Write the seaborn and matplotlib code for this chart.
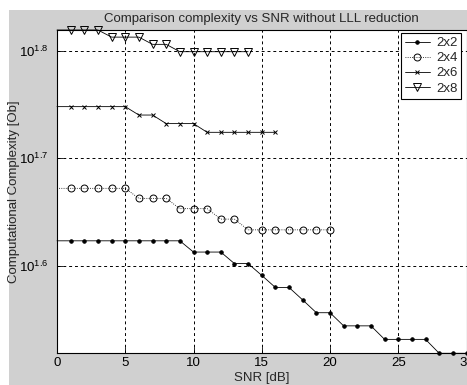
import matplotlib
matplotlib.use("Agg")
import matplotlib.pyplot as plt
import seaborn as sns
import pandas as pd
import numpy as np
from matplotlib.patches import Rectangle
from matplotlib.ticker import NullLocator, FixedLocator, FixedFormatter

# ---- data ----
snr = list(range(0, 31))
c2x2 = [42]*10 + [41]*3 + [40]*2 + [39] + [38]*2 + [37] + [36]*2 + [35]*3 + [34]*4 + [33]*3
c2x4 = [47]*6 + [46]*3 + [45]*3 + [44]*2 + [43]*7
c2x6 = [56]*6 + [55]*2 + [54]*3 + [53]*6
c2x8 = [66]*4 + [65]*3 + [64]*2 + [63]*6
labels = ["2x2", "2x4", "2x6", "2x8"]
xticks = [0, 5, 10, 15, 20, 25, 30]
yexp = [1.6, 1.7, 1.8]

sns.set_style("white")
plt.rcParams['font.family'] = ['Liberation Sans', 'DejaVu Sans']
plt.rcParams['mathtext.fontset'] = 'custom'
plt.rcParams['mathtext.rm'] = 'Liberation Sans'

W, H = 467, 385
fig = plt.figure(figsize=(W/100, H/100), dpi=100, facecolor='white')
gray = '#d0d0d0'
fig.patches.append(Rectangle((9/W, 0), 1 - 9/W, 1 - 10/H, transform=fig.transFigure,
                             facecolor=gray, edgecolor='none', zorder=-10))

ax_l, ax_r, ax_t, ax_b = 57, 466.5, 30, 353.3
ax = fig.add_axes([ax_l/W, 1 - ax_b/H, (ax_r - ax_l)/W, (ax_b - ax_t)/H])
ax.set_facecolor('white')

series = [c2x2, c2x4, c2x6, c2x8]
styles = [
    dict(marker='.', linestyle='-', markersize=5, mfc='k'),
    dict(marker='o', linestyle=':', markersize=5, mfc='none'),
    dict(marker='x', linestyle='-', markersize=3.5, mfc='none'),
    dict(marker='v', linestyle='-', markersize=6, mfc='none'),
]
for vals, lab, st in zip(series, labels, styles):
    df = pd.DataFrame({"SNR": snr[:len(vals)], "C": vals})
    sns.lineplot(data=df, x="SNR", y="C", ax=ax, color='k', linewidth=0.6,
                 markeredgecolor='k', markeredgewidth=0.7, markevery=slice(1, None),
                 label=lab, clip_on=False, **st)

ax.set_yscale('log')
ax.set_xlim(0, 30)
ax.set_ylim(33, 66)
ax.xaxis.set_major_locator(FixedLocator(xticks))
ax.set_xticklabels([str(t) for t in xticks])
ax.yaxis.set_major_locator(FixedLocator([10**e for e in yexp]))
ax.yaxis.set_major_formatter(FixedFormatter([r'$\mathdefault{10^{%g}}$' % e for e in yexp]))
ax.yaxis.set_minor_locator(NullLocator())
ax.xaxis.set_minor_locator(NullLocator())

ax.grid(True, color='k', linestyle=(0, (3, 3)), linewidth=0.7)
for s in ax.spines.values():
    s.set_color('k')
    s.set_linewidth(0.8)
ax.tick_params(direction='in', length=4, width=0.6, colors='k', labelsize=9.5,
               top=False, right=False, left=True, bottom=True)
ax.tick_params(axis='x', pad=3)
ax.tick_params(axis='y', pad=6)

ax.set_title("Comparison complexity vs SNR without LLL reduction", fontsize=9.5, pad=6)
ax.set_xlabel("SNR [dB]", fontsize=9.5, labelpad=2)
ax.set_ylabel("Computational Complexity [Ob]", fontsize=9.5)
ax.yaxis.set_label_coords(20/W, 1 - 191.5/H, transform=fig.transFigure)

leg = ax.legend(loc='upper left', bbox_to_anchor=(401/W, 1 - 33/H),
                bbox_transform=fig.transFigure, frameon=True, fancybox=False,
                edgecolor='k', framealpha=1, fontsize=9.5, handlelength=1.9,
                borderpad=0.3, labelspacing=0.22, handletextpad=0.45, borderaxespad=0)
leg.get_frame().set_linewidth(0.8)

fig.savefig("out.png", dpi=100, facecolor='white')
